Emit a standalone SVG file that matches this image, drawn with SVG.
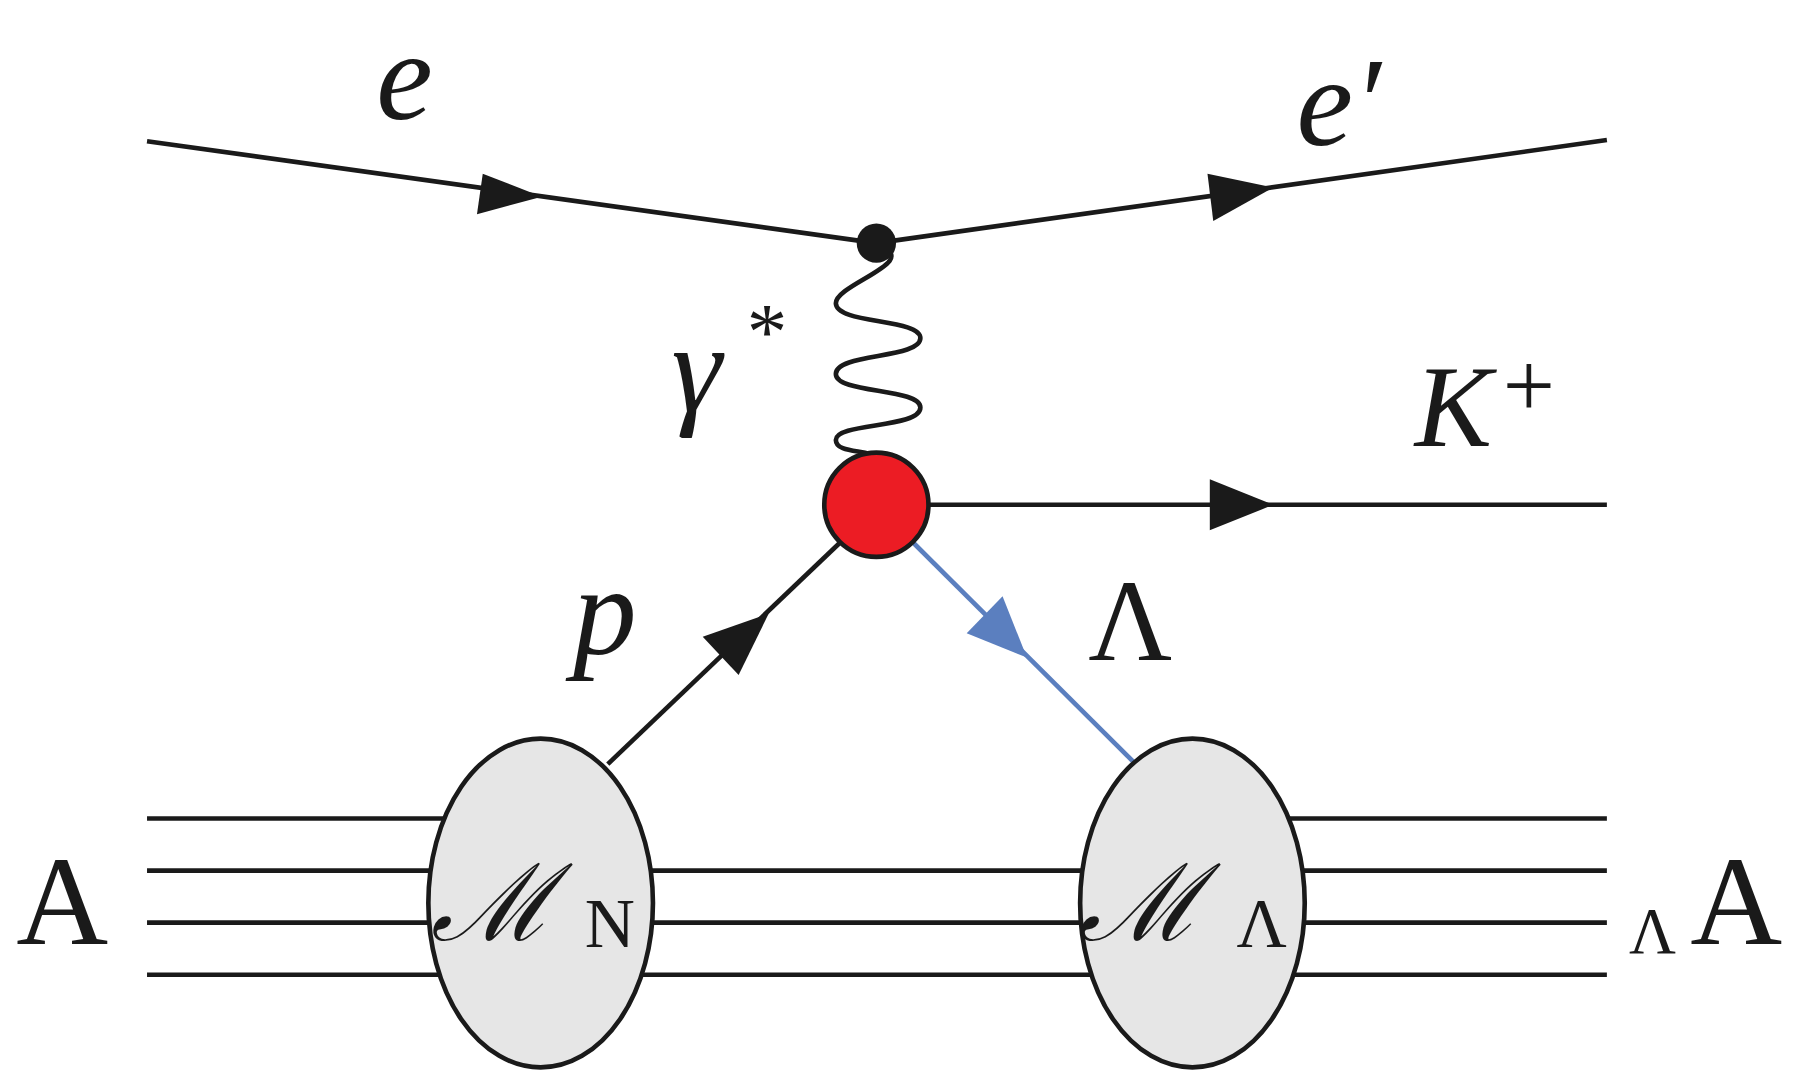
<svg xmlns="http://www.w3.org/2000/svg" width="1806" height="1074" viewBox="0 0 1806 1074">
<defs>
<style>
.l{stroke:#1a1a1a;stroke-width:4;fill:none}
.t{font-family:"Liberation Serif",serif;fill:#1a1a1a}
.i{font-style:italic}
.ar{fill:#1a1a1a}
</style>
</defs>
<rect width="1806" height="1074" fill="#fff"/>
<g transform="scale(1.1577)">
<g id="connectors">
<line class="l" x1="127" y1="122" x2="757" y2="210"/>
<line class="l" x1="757" y1="210" x2="1388" y2="121"/>
<polygon class="ar" points="468,170 412,185 417,150"/>
<polygon class="ar" points="1100,162 1048,191 1043,150"/>
<path class="l" stroke-width="2.5" d="M757,212 C800,225 722,245 722,262 C722,280 795,275 795,292 C795,310 722,305 722,323 C722,340 795,335 795,352 C795,370 722,365 722,380 C722,392 750,388 757,395"/>
<line class="l" x1="780" y1="436" x2="1388" y2="436"/>
<polygon class="ar" points="1100,436 1045,458 1045,414"/>
<line class="l" x1="525" y1="660" x2="740" y2="455"/>
<polygon class="ar" points="664,530 607,550 638,583"/>
<line stroke="#5b7fbf" stroke-width="4" x1="775" y1="455" x2="983" y2="662"/>
<polygon fill="#5b7fbf" points="887,568 835,547 866,515"/>
<line class="l" x1="127" y1="707" x2="400" y2="707"/>
<line class="l" x1="1100" y1="707" x2="1388" y2="707"/>
<line class="l" x1="127" y1="752" x2="1388" y2="752"/>
<line class="l" x1="127" y1="797" x2="1388" y2="797"/>
<line class="l" x1="127" y1="842" x2="1388" y2="842"/>
</g>
<g id="vertex-top"><circle cx="757" cy="210" r="17" fill="#1a1a1a"/></g>
<g id="vertex-red"><circle cx="757" cy="436" r="45" fill="#ec1c24" stroke="#1a1a1a" stroke-width="4"/></g>
<g id="MN"><ellipse cx="467" cy="780" rx="97" ry="142" fill="#e6e6e6" stroke="#1a1a1a" stroke-width="4"/>
<text class="t i" x="372" y="812" font-size="92">ℳ</text><text class="t" x="505" y="818" font-size="60">N</text></g>
<g id="ML"><ellipse cx="1030" cy="780" rx="97" ry="142" fill="#e6e6e6" stroke="#1a1a1a" stroke-width="4"/>
<text class="t i" x="932" y="812" font-size="92">ℳ</text><text class="t" x="1068" y="818" font-size="60">Λ</text></g>
<g id="labels">
<text class="t i" x="325" y="103" font-size="110">e</text>
<text class="t i" x="1120" y="125" font-size="110">e′</text>
<text class="t i" x="580" y="355" font-size="110">γ</text>
<text class="t" x="645" y="310" font-size="70">*</text>
<text class="t i" x="1222" y="385" font-size="100">K</text>
<text class="t" x="1298" y="360" font-size="80">+</text>
<text class="t i" x="495" y="565" font-size="110">p</text>
<text class="t" x="940" y="570" font-size="100">Λ</text>
<text class="t" x="14" y="815" font-size="110">A</text>
<text class="t" x="1407" y="823" font-size="56">Λ</text>
<text class="t" x="1460" y="815" font-size="110">A</text>
</g>
</g>
</svg>
